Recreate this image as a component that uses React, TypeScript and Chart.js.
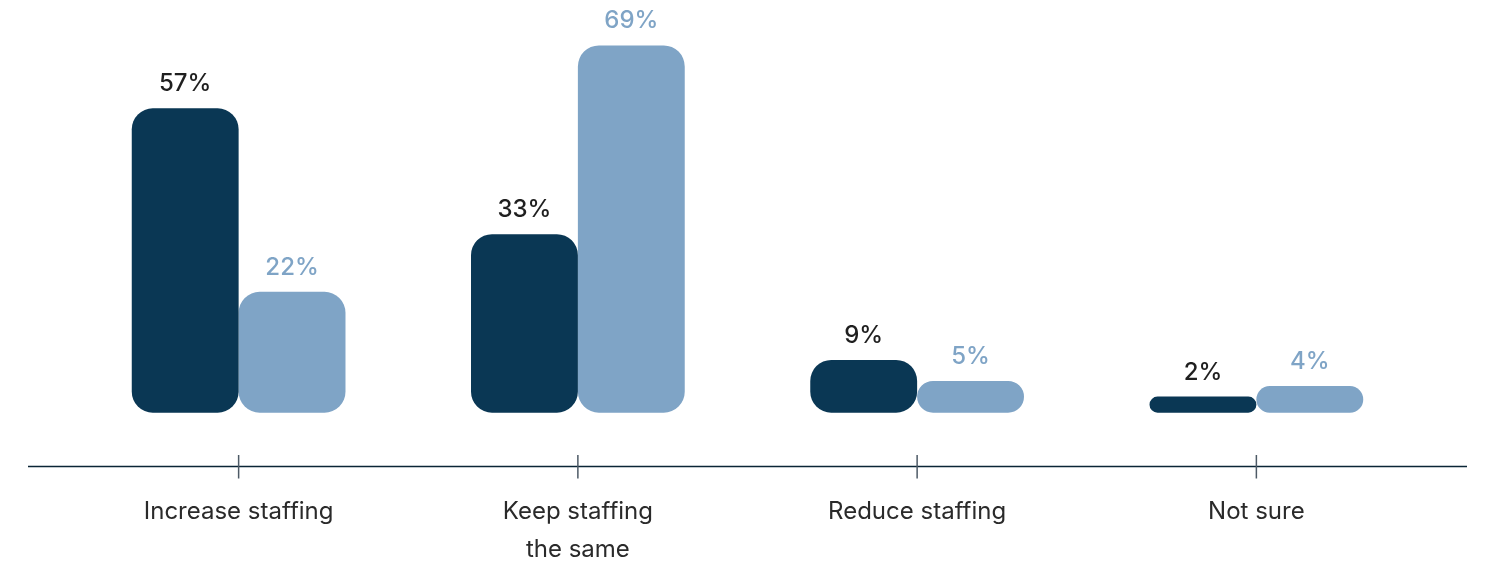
import React, { useEffect, useRef } from "react";
import { Chart, registerables } from "chart.js";

Chart.register(...registerables);

// ---- data ----
const categories: (string | string[])[] = [
  "Increase staffing",
  ["Keep staffing", "the same"],
  "Reduce staffing",
  "Not sure",
];
const seriesDark = [57, 33, 9, 2];
const seriesLight = [22, 69, 5, 4];

// ---- styling ----
const DARK = "#0a3754";
const LIGHT = "#7fa4c6";
const LABEL_DARK = "#1f1f1f";
const AXIS_TEXT = "#2a2a2a";
const AXIS_LINE = "#0b2536";
const TICK_MARK = "#4d5a66";
const FONT = "Inter, 'Noto Sans', sans-serif";

const Y_MIN = -11.24;
const Y_MAX = 75;
const BAR_BASE = -1.07;

const overlayPlugin = {
  id: "overlay",
  afterDatasetsDraw(chart: any) {
    const { ctx, chartArea } = chart;
    const xs = chart.scales.x;
    const y = chartArea.bottom + 0.5;
    ctx.save();
    // axis line
    ctx.strokeStyle = AXIS_LINE;
    ctx.lineWidth = 1.5;
    ctx.beginPath();
    ctx.moveTo(chartArea.left - 41, y);
    ctx.lineTo(chartArea.right + 41, y);
    ctx.stroke();
    // tick marks at category centres
    ctx.strokeStyle = TICK_MARK;
    ctx.lineWidth = 1.5;
    categories.forEach((_, i) => {
      const x = xs.getPixelForValue(i);
      ctx.beginPath();
      ctx.moveTo(x, y - 11.5);
      ctx.lineTo(x, y + 12);
      ctx.stroke();
    });
    // value labels
    ctx.font = `500 24px ${FONT}`;
    ctx.textAlign = "center";
    ctx.textBaseline = "alphabetic";
    chart.data.datasets.forEach((ds: any, di: number) => {
      const meta = chart.getDatasetMeta(di);
      ctx.fillStyle = di === 0 ? LABEL_DARK : LIGHT;
      meta.data.forEach((el: any, i: number) => {
        ctx.fillText(`${ds.data[i]}%`, el.x, el.y - 17);
      });
    });
    ctx.restore();
  },
};

export default function App() {
  const ref = useRef<HTMLCanvasElement | null>(null);
  useEffect(() => {
    if (!ref.current) return;
    const chart = new Chart(ref.current, {
      type: "bar",
      data: {
        labels: categories,
        datasets: [
          {
            data: seriesDark,
            backgroundColor: DARK,
            base: BAR_BASE,
            borderRadius: 21,
            borderSkipped: false,
            borderWidth: 0,
          },
          {
            data: seriesLight,
            backgroundColor: LIGHT,
            base: BAR_BASE,
            borderRadius: 21,
            borderSkipped: false,
            borderWidth: 0,
          },
        ] as any,
      },
      options: {
        animation: false,
        responsive: false,
        maintainAspectRatio: false,
        layout: { padding: { left: 69, right: 63, top: 14, bottom: 0 } },
        datasets: {
          bar: { categoryPercentage: 0.63, barPercentage: 1 },
        },
        plugins: {
          legend: { display: false },
          tooltip: { enabled: false },
        },
        scales: {
          x: {
            offset: true,
            grid: { display: false, drawTicks: false },
            border: { display: false },
            ticks: {
              color: AXIS_TEXT,
              font: { family: FONT, size: 24, lineHeight: 1.58 },
              padding: 27,
              maxRotation: 0,
              autoSkip: false,
            },
            afterFit: (scale: any) => {
              scale.height = 99;
            },
          },
          y: {
            display: false,
            min: Y_MIN,
            max: Y_MAX,
          },
        },
      } as any,
      plugins: [overlayPlugin],
    });
    return () => chart.destroy();
  }, []);
  return (
    <div style={{ position: "fixed", left: 0, top: 0, width: 1489, height: 565, background: "#fff" }}>
      <canvas ref={ref} width={1489} height={565} style={{ display: "block" }} />
    </div>
  );
}
